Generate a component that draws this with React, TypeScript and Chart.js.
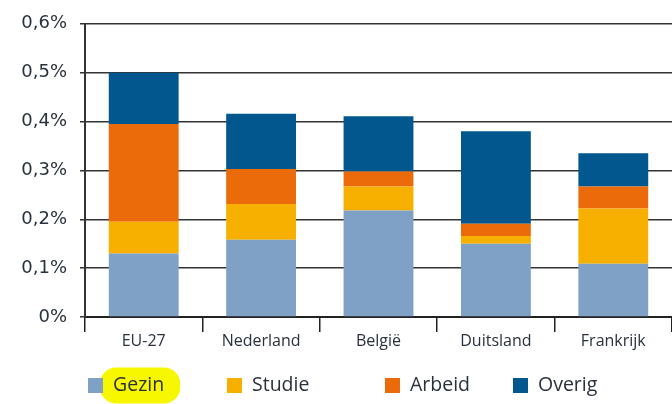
import React, { useEffect, useRef } from "react";
import { Chart, registerables } from "chart.js";

Chart.register(...registerables);

const categories = ["EU-27", "Nederland", "België", "Duitsland", "Frankrijk"];
const gezin = [0.13, 0.158, 0.218, 0.15, 0.109];
const studie = [0.065, 0.073, 0.049, 0.016, 0.113];
const arbeid = [0.2, 0.072, 0.031, 0.025, 0.045];
const overig = [0.105, 0.113, 0.113, 0.189, 0.068];
const seriesNames = ["Gezin", "Studie", "Arbeid", "Overig"];
const seriesColors = ["#7fa1c6", "#f8b000", "#eb6b0a", "#02578e"];
const yTickValues = [0, 0.1, 0.2, 0.3, 0.4, 0.5, 0.6];

const FONT = "'Open Sans', 'Noto Sans', sans-serif";
const TICK_FONT = "'DejaVu Sans', 'Open Sans', sans-serif";
const TEXT = "#28313d";
const LEGEND_X = [88, 227, 385, 513];

const legendPlugin = {
  id: "customLegend",
  afterDraw(chart: any) {
    const ctx = chart.ctx;
    ctx.save();
    const cy = 385.5;
    chart.data.datasets.forEach((ds: any, i: number) => {
      const x = LEGEND_X[i];
      ctx.font = `19.5px ${FONT}`;
      const tx = x + 25;
      if (i === 0) {
        const w = ctx.measureText(ds.label).width;
        ctx.fillStyle = "#f7f700";
        ctx.beginPath();
        (ctx as any).roundRect(x + 12, cy - 18, tx + w + 16 - (x + 12), 36, 16);
        ctx.fill();
      }
      ctx.fillStyle = ds.backgroundColor;
      ctx.fillRect(x, cy - 7.5, 15, 15);
      ctx.fillStyle = TEXT;
      ctx.textBaseline = "middle";
      ctx.textAlign = "left";
      ctx.fillText(ds.label, tx, cy);
    });
    ctx.restore();
  },
};

export default function App() {
  const ref = useRef<HTMLCanvasElement>(null);
  useEffect(() => {
    if (!ref.current) return;
    const values = [gezin, studie, arbeid, overig];
    const chart = new Chart(ref.current, {
      type: "bar",
      data: {
        labels: categories,
        datasets: seriesNames.map((n, i) => ({
          label: n,
          data: values[i],
          backgroundColor: seriesColors[i],
          borderWidth: 0,
          barPercentage: 0.595,
          categoryPercentage: 1,
        })),
      },
      options: {
        responsive: false,
        animation: false,
        layout: { padding: { top: 19, right: 0, left: 0, bottom: 0 } },
        plugins: { legend: { display: false }, tooltip: { enabled: false } },
        scales: {
          x: {
            stacked: true,
            afterFit: (s: any) => {
              s.height = 87;
            },
            grid: {
              display: true,
              drawOnChartArea: false,
              drawTicks: true,
              tickLength: 15,
              color: "#222",
              lineWidth: 1.5,
              offset: true,
            },
            border: { display: true, color: "#222", width: 2 },
            ticks: { color: TEXT, font: { family: FONT, size: 16 }, padding: 0 },
          },
          y: {
            stacked: true,
            min: 0,
            max: 0.6,
            afterFit: (s: any) => {
              s.width = 85;
            },
            afterBuildTicks: (s: any) => {
              s.ticks = yTickValues.map((v) => ({ value: v }));
            },
            grid: { color: "#333", lineWidth: 1.5, tickLength: 5 },
            border: { display: true, color: "#333", width: 2 },
            ticks: {
              color: TEXT,
              font: { family: TICK_FONT, size: 18 },
              padding: 13,
              callback: (v: any) =>
                Number(v) === 0 ? "0%" : Number(v).toFixed(1).replace(".", ",") + "%",
            },
          },
        },
      },
      plugins: [legendPlugin],
    });
    return () => chart.destroy();
  }, []);
  return (
    <div style={{ position: "absolute", left: 0, top: 0, width: 672, height: 404, background: "#fff" }}>
      <canvas ref={ref} width={672} height={404} style={{ width: 672, height: 404 }} />
    </div>
  );
}
